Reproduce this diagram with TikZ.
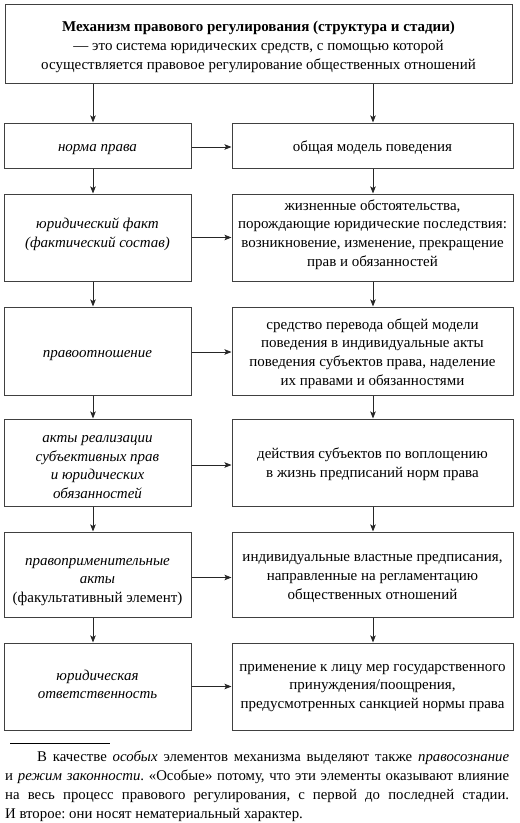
\documentclass[tikz,border=0pt]{standalone}
\usepackage{fontspec}
\setmainfont{Liberation Serif}
\usetikzlibrary{arrows.meta}
\frenchspacing
\begin{document}
\begin{tikzpicture}[x=1pt,y=-1pt,
  box/.style={draw=black!75, line width=1pt, inner sep=0pt},
  lbox/.style={box, minimum width=187pt},
  rbox/.style={box, minimum width=281pt},
  txt/.style={align=center, inner sep=0pt, font=\fontsize{15}{18.7}\selectfont},
  arr/.style={-{Stealth[length=7pt,width=5.5pt,inset=1.5pt]}, line width=0.8pt, draw=black!85},
  note/.style={inner sep=0pt, anchor=north west, text width=504pt, align=justify,
    font=\fontsize{14.8}{19}\selectfont}]
\useasboundingbox (0,0) rectangle (520,823);

% boxes
\node[box, minimum width=507pt, minimum height=79pt] (top) at (258.5,43.5) {};
\node[lbox, minimum height=45pt] (l1) at (97.5,145.5) {};
\node[rbox, minimum height=45pt] (r1) at (372.5,145.5) {};
\node[lbox, minimum height=87pt] (l2) at (97.5,237.5) {};
\node[rbox, minimum height=87pt] (r2) at (372.5,237.5) {};
\node[lbox, minimum height=88pt] (l3) at (97.5,351) {};
\node[rbox, minimum height=88pt] (r3) at (372.5,351) {};
\node[lbox, minimum height=87pt] (l4) at (97.5,462.5) {};
\node[rbox, minimum height=87pt] (r4) at (372.5,462.5) {};
\node[lbox, minimum height=85pt] (l5) at (97.5,574.5) {};
\node[rbox, minimum height=85pt] (r5) at (372.5,574.5) {};
\node[lbox, minimum height=87pt] (l6) at (97.5,686.5) {};
\node[rbox, minimum height=87pt] (r6) at (372.5,686.5) {};

% texts
\node[txt] (topt) at ([yshift=-3.5pt]top.center)
  {\textbf{Механизм правового регулирования (структура и стадии)}\\
   — это система юридических средств, с помощью которой\\
   осуществляется правовое регулирование общественных отношений};
\node[txt] (l1t) at ([yshift=-4pt]l1.center) {\textit{норма права}};
\node[txt] (r1t) at ([yshift=-2pt]r1.center) {общая модель поведения};
\node[txt] (l2t) at ([yshift=3pt]l2.center)
  {\textit{юридический факт}\\\textit{(фактический состав)}};
\node[txt] (r2t) at ([yshift=3pt]r2.center)
  {жизненные обстоятельства,\\порождающие юридические последствия:\\
   возникновение, изменение, прекращение\\прав и обязанностей};
\node[txt] (l3t) at ([yshift=-4.5pt]l3.center) {\textit{правоотношение}};
\node[txt] (r3t) at ([yshift=-2.5pt]r3.center)
  {средство перевода общей модели\\поведения в индивидуальные акты\\
   поведения субъектов права, наделение\\их правами и обязанностями};
\node[txt] (l4t) at ([yshift=-4.5pt]l4.center)
  {\textit{акты реализации}\\\textit{субъективных прав}\\\textit{и юридических}\\\textit{обязанностей}};
\node[txt] (r4t) at ([yshift=-2pt]r4.center)
  {действия субъектов по воплощению\\в жизнь предписаний норм права};
\node[txt] (l5t) at ([yshift=-7.5pt]l5.center)
  {\textit{правоприменительные}\\\textit{акты}\\(факультативный элемент)};
\node[txt] (r5t) at ([yshift=-4pt]r5.center)
  {индивидуальные властные предписания,\\направленные на регламентацию\\общественных отношений};
\node[txt] (l6t) at ([yshift=2pt]l6.center)
  {\textit{юридическая}\\\textit{ответственность}};
\node[txt] (r6t) at ([yshift=-1.5pt]r6.center)
  {применение к лицу мер государственного\\принуждения/поощрения,\\
   предусмотренных санкцией нормы права};

\coordinate (ax) at (93,0);
\coordinate (bx) at (373,0);

\draw[arr] (top.south -| ax) -- (l1.north -| ax);
\draw[arr] (top.south -| bx) -- (r1.north -| bx);
\draw[arr] (l1.south -| ax) -- (l2.north -| ax);
\draw[arr] (r1.south -| bx) -- (r2.north -| bx);
\draw[arr] (l2.south -| ax) -- (l3.north -| ax);
\draw[arr] (r2.south -| bx) -- (r3.north -| bx);
\draw[arr] (l3.south -| ax) -- (l4.north -| ax);
\draw[arr] (r3.south -| bx) -- (r4.north -| bx);
\draw[arr] (l4.south -| ax) -- (l5.north -| ax);
\draw[arr] (r4.south -| bx) -- (r5.north -| bx);
\draw[arr] (l5.south -| ax) -- (l6.north -| ax);
\draw[arr] (r5.south -| bx) -- (r6.north -| bx);

\draw[arr] ([yshift=-1.5pt]l1.east) -- ([yshift=-1.5pt]l1.east -| r1.west);
\draw[arr] (l2.east) -- (l2.east -| r2.west);
\draw[arr] ([yshift=-1pt]l3.east) -- ([yshift=-1pt]l3.east -| r3.west);
\draw[arr] ([yshift=-2.5pt]l4.east) -- ([yshift=-2.5pt]l4.east -| r4.west);
\draw[arr] ([yshift=-3pt]l5.east) -- ([yshift=-3pt]l5.east -| r5.west);
\draw[arr] (l6.east) -- (l6.east -| r6.west);

\draw[line width=0.6pt] (10,743) -- (110,743);

\node[note] (fn) at (5,751)
  {\hspace*{32pt}В качестве \textit{особых} элементов механизма выделяют также \textit{правосознание}\linebreak
   и \textit{режим законности}. «Особые» потому, что эти элементы оказывают влияние\linebreak
   на весь процесс правового регулирования, с первой до последней стадии.\linebreak
   И второе: они носят нематериальный характер.};
\end{tikzpicture}
\end{document}
